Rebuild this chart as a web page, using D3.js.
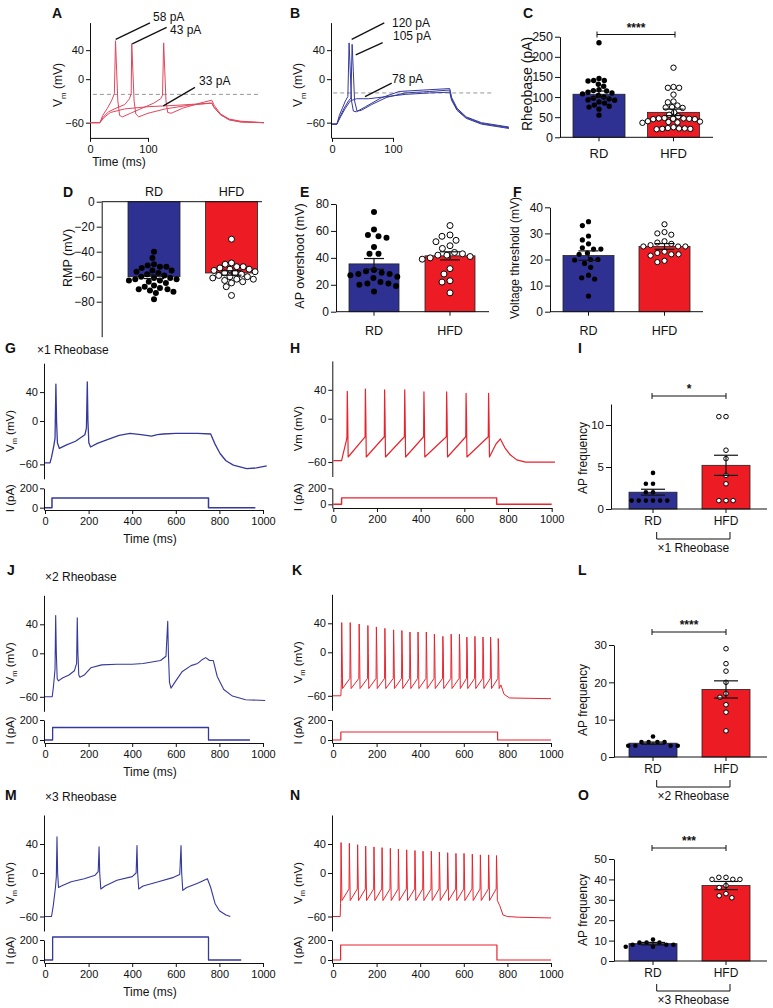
<!DOCTYPE html>
<html>
<head>
<meta charset="utf-8">
<title>Rheobase / AP figure</title>
<script src="https://cdn.jsdelivr.net/npm/d3@7/dist/d3.min.js"></script>
<style>
  body { margin: 0; background: #fff; }
  svg { display: block; }
</style>
</head>
<body>
<div id="fig"></div>
<script>
// ========== DATA ==========
// A: RD neuron, Vm (time ms, mV) at three current steps
const a58 = [[0,-60],[17,-60],[22,-50],[30,-40],[37,-30],[42,-20],[44,53],[46,10],[48,-30],[51,-50],[56,-52],[70,-47],[90,-40],[110,-33],[122,-27],[125,-22],[127,50],[129,10],[131,-30],[134,-46],[140,-47],[160,-40],[190,-33],[210,-29],[214,-36],[225,-48],[240,-55],[260,-58],[300,-60]];
const a43 = [[0,-60],[17,-60],[23,-52],[32,-45],[45,-40],[60,-35],[68,-27],[71,-20],[72,49],[74,10],[76,-30],[79,-48],[84,-52],[100,-47],[130,-41],[170,-36],[210,-33],[214,-39],[225,-49],[240,-56],[260,-59],[300,-60]];
const a33 = [[0,-60],[17,-60],[24,-53],[35,-46],[60,-41],[100,-38],[150,-36],[210,-33],[214,-39],[225,-49],[240,-56],[260,-59],[300,-60]];
// B: HFD neuron
const b120 = [[0,-62],[8,-62],[12,-50],[17,-40],[22,-30],[26,-24],[28,50],[30,10],[32,-30],[35,-44],[40,-45],[55,-38],[80,-26],[110,-17],[150,-15],[193,-13],[196,-25],[205,-40],[220,-52],[245,-60],[290,-66]];
const b105 = [[0,-62],[8,-62],[13,-52],[20,-40],[27,-30],[31,-26],[33,48],[35,10],[37,-30],[41,-44],[48,-43],[65,-35],[90,-25],[120,-19],[160,-17],[193,-15],[196,-27],[205,-42],[220,-53],[245,-61],[290,-67]];
const b78 = [[0,-62],[8,-62],[14,-52],[22,-40],[30,-30],[40,-27],[60,-27],[90,-24],[120,-21],[160,-19],[193,-18],[196,-29],[205,-43],[220,-54],[245,-62],[290,-68]];
const threshA = -21, threshB = -19;

// C–F, I, L, O summary data
const groups = ['RD', 'HFD'];
const rheoRD = [235,146,141,140,141,132,127,118,116,115,112,110,108,104,100,97,95,93,92,88,85,80,77,75,70,55];
const rheoHFD = [173,125,123,123,106,89,87,79,75,74,73,62,56,52,48,47,47,46,46,45,45,40,39,38,37,36,25,23,22,22,21,21,20];
const rheoMean = [107, 62], rheoSem = [8, 8];
const rmpRD = [-40,-45,-50,-51,-52,-52,-53,-55,-55,-56,-57,-58,-59,-60,-61,-61,-62,-62,-63,-63,-64,-65,-67,-68,-69,-70,-70,-71,-72,-73,-78];
const rmpHFD = [-30,-49,-50,-52,-52,-53,-54,-54,-55,-56,-57,-57,-58,-59,-60,-60,-61,-62,-62,-63,-64,-65,-68,-75];
const rmpMean = [-60, -57], rmpSem = [1.5, 1.8];
const ovsRD = [74,61,57,56,55,48,43,43,31,30,29,28,28,27,26,25,22,21,21,20,19,15];
const ovsHFD = [64,57,56,53,52,49,47,44,43,42,42,41,40,39,32,28,23,22,14];
const ovsMean = [35.5, 41.5], ovsSem = [4, 3];
const thrRD = [34.5,33,29,27.5,26,24.5,24,24,22.5,22,20,20,19.8,18.5,17,14,13,12.5,6];
const thrHFD = [33.5,30.5,30,29.5,27,26.5,26,25.5,25,25,25,23,22.5,22,22,21.5,19.5,19];
const thrMean = [21.5, 25], thrSem = [1.8, 1.1];
const f1RD = [4.3,3,3,2,2,1,1,1,1,1,1], f1HFD = [11,11,7,6,4,3,1,1,1];
const f1Mean = [2.0, 5.2], f1Sem = [0.35, 1.2];
const f2RD = [5.5,4,4,4,4,3,3,3,3], f2HFD = [29,25,23,20,17,16,14,12,7];
const f2Mean = [3.7, 18.1], f2Sem = [0.3, 2.3];
const f3RD = [10.5,9,9,9,8,8,8,7,7], f3HFD = [41,41,40,40,40,37,36,33,32,31];
const f3Mean = [8.5, 37], f3Sem = [0.6, 2];

// G–N: firing at x1/x2/x3 rheobase (time ms, Vm mV / I pA)
const gVm = [[0,-58],[23,-58],[30,-50],[40,-35],[46,-24],[50,51],[53,0],[57,-30],[66,-38],[99,-33],[140,-28],[183,-19],[190,-10],[194,54],[197,0],[201,-30],[209,-36],[240,-31],[283,-26],[340,-20],[390,-17],[440,-19],[489,-21],[515,-19],[543,-18],[600,-17],[650,-17],[700,-17],[760,-18],[780,-32],[803,-45],[830,-55],[864,-61],[925,-66],[970,-65],[1017,-62]];
const gI = [[0,0],[32,0],[32,100],[750,100],[750,0],[965,0]];
const hPre = [[0,-58],[38,-58],[44,-50],[52,-40],[60,-30]];
const hSpikeT = [64,147,235,327,415,519,608,711];
const hSpikePk = [38,41,40,40,37,37,35,35];
const hTrough = -53, hThresh = -25;
const hPost = [[745,-35],[765,-28],[785,-40],[810,-50],[840,-57],[880,-60],[1015,-60]];
const hI = [[0,0],[38,0],[38,80],[748,80],[748,0],[1000,0]];
const jVm = [[0,-60],[33,-60],[38,-48],[43,-32],[46,-22],[49,52],[52,0],[56,-35],[62,-38],[80,-34],[110,-30],[135,-24],[145,-14],[148,49],[151,0],[155,-30],[160,-33],[180,-30],[210,-20],[260,-16],[330,-15],[400,-15],[450,-14],[490,-12],[530,-10],[555,-4],[563,44],[566,0],[571,-40],[578,-48],[600,-38],[630,-25],[670,-17],[700,-14],[720,-9],[737,-6],[755,-10],[772,-10],[790,-32],[820,-50],[860,-59],[920,-64],[1010,-65]];
const jI = [[0,0],[35,0],[35,125],[750,125],[750,0],[940,0]];
const kPre = [[0,-60],[36,-60],[38,-45]];
const kSpikeT = [40,79,120,160,199,238,278,316,353,390,428,465,504,542,580,614,651,688,723,758];
const kSpikePk = [41,41,39,37,35,33,31,30,28,28,28,25,22,25,25,21,22,21,21,19];
const kTrough = -50, kThresh = -36;
const kPost = [[770,-45],[785,-58],[810,-63],[1000,-64]];
const kI = [[0,0],[36,0],[36,80],[755,80],[755,0],[1000,0]];
const mVm = [[0,-60],[30,-60],[38,-45],[48,-20],[52,-5],[55,50],[58,0],[62,-20],[75,-18],[120,-12],[180,-8],[230,-3],[244,2],[248,36],[251,0],[256,-22],[275,-18],[330,-10],[400,-5],[418,0],[422,38],[425,0],[430,-22],[450,-18],[520,-12],[590,-6],[618,-2],[624,38],[627,0],[632,-24],[650,-20],[700,-14],[745,-8],[760,-20],[780,-42],[800,-52],[830,-58],[850,-60]];
const mI = [[0,0],[35,0],[35,230],[750,230],[750,0],[900,0]];
const nPre = [[0,-60],[33,-60],[34.5,-42]];
const nSpikeT = [37,75,113,150,188,225,263,300,338,376,413,451,488,526,564,601,639,676,714,750];
const nSpikePk = [42,41,39,37,36,35,34,33,32,31,30,30,29,28,27,27,26,25,25,24];
const nTrough = -38, nThresh = -22;
const nPost = [[765,-45],[780,-58],[800,-60],[850,-61],[1000,-62]];
const nI = [[0,0],[35,0],[35,150],[752,150],[752,0],[1000,0]];

const timeTicks = [0, 200, 400, 600, 800, 1000];

// ========== DRAWING ==========
const FONT = "'Liberation Sans', Arial, Helvetica, sans-serif";
const BLUE = '#2e3192', RED = '#ed1c24', PINK = '#e2465c', TBLUE = '#35399a', TRED = '#e8232d';
const INK = '#111';

const svg = d3.select('#fig').append('svg')
  .attr('width', 773).attr('height', 1008)
  .attr('font-family', FONT);

function txt(x, y, s, fs = 12, anchor = 'start', fw = 'normal') {
  return svg.append('text').attr('x', x).attr('y', y).text(s)
    .attr('font-size', fs).attr('font-weight', fw).attr('text-anchor', anchor).attr('fill', INK);
}
function letter(x, y, s) { txt(x, y, s, 14, 'start', 'bold'); }

function rotLabel(cx, cy, s, fs, sub) {
  const t = svg.append('text').attr('transform', `translate(${cx},${cy}) rotate(-90)`)
    .attr('text-anchor', 'middle').attr('font-size', fs).attr('fill', INK).attr('dy', '0.35em');
  if (sub) {
    t.append('tspan').text(s[0]);
    t.append('tspan').text(sub).attr('font-size', fs * 0.65).attr('dy', fs * 0.3);
    t.append('tspan').text(s.slice(1)).attr('dy', -fs * 0.3);
  } else t.text(s);
}

function tidy(g, fs) {
  g.attr('font-family', FONT).attr('font-size', fs);
  g.selectAll('.domain, .tick line').attr('stroke', INK);
  g.selectAll('.tick text').attr('fill', INK);
  return g;
}
function yAxis(x, scale, ticks, fs, size = 4) {
  return tidy(svg.append('g').attr('transform', `translate(${x},0)`)
    .call(d3.axisLeft(scale).tickValues(ticks).tickFormat(d3.format('d'))
      .tickSize(size).tickPadding(2).tickSizeOuter(0)), fs);
}
function xAxis(y, scale, ticks, fs, size = 4) {
  return tidy(svg.append('g').attr('transform', `translate(0,${y})`)
    .call(d3.axisBottom(scale).tickValues(ticks).tickFormat(d3.format('d'))
      .tickSize(size).tickPadding(3).tickSizeOuter(0)), fs);
}

function trace(xs, ys, pts, color, w = 1.2) {
  svg.append('path').datum(pts).attr('fill', 'none').attr('stroke', color)
    .attr('stroke-width', w).attr('stroke-linejoin', 'round')
    .attr('d', d3.line().x(d => xs(d[0])).y(d => ys(d[1])));
}

// spike train assembled from read spike times / peaks
function train(pre, times, peaks, trough, thresh, post) {
  const pts = pre.slice();
  times.forEach((t, i) => {
    pts.push([t - 1.5, thresh], [t, peaks[i]], [t + 2, 0], [t + 4, trough]);
  });
  return pts.concat(post);
}

// ---------- A & B ----------
function stepPanel(p) {
  const xs = d3.scaleLinear().domain([0, 100]).range(p.xr);
  const vs = d3.scaleLinear().domain([-81, 78]).range([137.9, 22.6]);
  yAxis(p.ax, vs, [-60, 0, 40], 11);
  xAxis(137.9, xs, [0, 100], 11);
  svg.append('line').attr('x1', xs(p.dash[0])).attr('x2', xs(p.dash[1]))
    .attr('y1', vs(p.thresh)).attr('y2', vs(p.thresh))
    .attr('stroke', '#8a8a8a').attr('stroke-dasharray', '4,3').attr('stroke-width', 0.9);
  p.traces.forEach(tr => trace(xs, vs, tr, p.color, 1));
  p.notes.forEach(n => {
    svg.append('line').attr('x1', xs(n.from[0])).attr('y1', vs(n.from[1]))
      .attr('x2', xs(n.to[0])).attr('y2', vs(n.to[1])).attr('stroke', INK).attr('stroke-width', 1.3);
    txt(xs(n.at[0]), vs(n.at[1]), n.text, 12);
  });
  rotLabel(p.lx, 85, 'V (mV)', 12, 'm');
}

letter(52, 18, 'A');
stepPanel({
  xr: [90, 148], ax: 90, color: PINK, thresh: threshA, dash: [5, 293],
  traces: [a33, a43, a58], lx: 58,
  notes: [
    { text: '58 pA', from: [44.3, 54.8], to: [103.4, 77.7], at: [108.6, 80.4] },
    { text: '43 pA', from: [72.9, 48.7], to: [132.2, 71.3], at: [137.9, 62.5] },
    { text: '33 pA', from: [126.4, -36.8], to: [181, -11.4], at: [188, -7.9] }
  ]
});
txt(119, 166, 'Time (ms)', 12, 'middle');

letter(290, 18, 'B');
stepPanel({
  xr: [332, 393], ax: 331, color: TBLUE, thresh: threshB, dash: [2, 264],
  traces: [b78, b105, b120], lx: 298,
  notes: [
    { text: '120 pA', from: [32.3, 54.8], to: [85.7, 77.7], at: [98.4, 72.1] },
    { text: '105 pA', from: [38.9, 33.5], to: [83.1, 50.5], at: [100, 54.2] },
    { text: '78 pA', from: [54.1, -24], to: [97.9, -5.5], at: [98.4, -5.1] }
  ]
});

// ---------- bar + scatter panels ----------
function swarm(vals, y, cx, r, k) {
  const d = r * k;
  const pts = vals.map(v => ({ v, y: y(v) })).sort((a, b) => a.y - b.y);
  const placed = [];
  pts.forEach(p => {
    const cands = [0];
    placed.forEach(q => {
      const dy = Math.abs(p.y - q.y);
      if (dy < d) { const dx = Math.sqrt(d * d - dy * dy); cands.push(q.dx + dx, q.dx - dx); }
    });
    cands.sort((a, b) => Math.abs(a) - Math.abs(b) || a - b);
    p.dx = cands.find(c => placed.every(q => (q.dx - c) ** 2 + (q.y - p.y) ** 2 >= d * d - 0.01));
    placed.push(p);
  });
  return placed.map(p => ({ x: cx + p.dx, y: p.y }));
}

function barPanel(p) {
  const y = p.y;
  const cols = [BLUE, RED];
  p.means.forEach((m, i) => {
    svg.append('rect').attr('x', p.cx[i] - p.bw / 2).attr('width', p.bw)
      .attr('y', Math.min(y(0), y(m))).attr('height', Math.abs(y(m) - y(0)))
      .attr('fill', cols[i]).attr('stroke', '#222').attr('stroke-width', 0.8);
  });
  p.vals.forEach((vals, i) => {
    svg.append('g').selectAll('circle').data(swarm(vals, y, p.cx[i], p.r, p.k)).join('circle')
      .attr('cx', d => d.x).attr('cy', d => d.y).attr('r', p.r)
      .attr('fill', i === 0 ? '#000' : '#fff').attr('stroke', '#000').attr('stroke-width', i === 0 ? 0 : 1);
  });
  p.means.forEach((m, i) => {
    const s = p.sems[i], g = svg.append('g').attr('stroke', INK).attr('stroke-width', 1.2);
    g.append('line').attr('x1', p.cx[i]).attr('x2', p.cx[i]).attr('y1', y(m - s)).attr('y2', y(m + s));
    [m - s, m + s].forEach(v => g.append('line').attr('x1', p.cx[i] - p.hw).attr('x2', p.cx[i] + p.hw)
      .attr('y1', y(v)).attr('y2', y(v)));
  });
  yAxis(p.ax, y, p.ticks, p.fs, 5);
  svg.append('line').attr('x1', p.ax).attr('x2', p.xEnd).attr('y1', y(0)).attr('y2', y(0))
    .attr('stroke', INK);
  if (p.catTicks) {
    p.cx.forEach(c => svg.append('line').attr('x1', c).attr('x2', c)
      .attr('y1', y(0)).attr('y2', y(0) + 4).attr('stroke', INK));
  }
  groups.forEach((gname, i) => txt(p.cx[i], p.labY, gname, p.lfs || 12.5, 'middle'));
}

function sigBar(x1, x2, yy, label) {
  const g = svg.append('g').attr('stroke', INK).attr('stroke-width', 1);
  g.append('line').attr('x1', x1).attr('x2', x2).attr('y1', yy).attr('y2', yy);
  [x1, x2].forEach(x => g.append('line').attr('x1', x).attr('x2', x).attr('y1', yy - 3).attr('y2', yy + 3));
  txt((x1 + x2) / 2, yy - 3, label, 12, 'middle', 'bold');
}
function groupBracket(x1, x2, yy, label, ly) {
  svg.append('path').attr('d', `M${x1},${yy - 7}V${yy}H${x2}V${yy - 7}`)
    .attr('fill', 'none').attr('stroke', INK);
  txt((x1 + x2) / 2, ly, label, 12, 'middle');
}

// C
letter(523, 18, 'C');
barPanel({
  y: d3.scaleLinear().domain([0, 250]).range([137.3, 36.7]), ticks: [0, 50, 100, 150, 200, 250],
  ax: 560, xEnd: 713, cx: [599, 673.5], bw: 52, means: rheoMean, sems: rheoSem,
  vals: [rheoRD, rheoHFD], r: 2.7, k: 2.1, hw: 10, fs: 12.5, labY: 158, lfs: 13, catTicks: true
});
sigBar(597, 675, 34.5, '****');
rotLabel(527, 84, 'Rheobase (pA)', 14);

// D
letter(63, 197, 'D');
barPanel({
  y: d3.scaleLinear().domain([-108, 0]).range([336.7, 201.7]), ticks: [0, -20, -40, -60, -80],
  ax: 101.7, xEnd: 262, cx: [154, 231.5], bw: 52, means: rmpMean, sems: rmpSem,
  vals: [rmpRD, rmpHFD], r: 3, k: 2.15, hw: 10, fs: 12, labY: 196, catTicks: false
});
rotLabel(68, 258, 'RMP (mV)', 12.5);

// E
letter(300, 197, 'E');
barPanel({
  y: d3.scaleLinear().domain([0, 80]).range([311.7, 204]), ticks: [0, 20, 40, 60, 80],
  ax: 336, xEnd: 489, cx: [374, 450], bw: 50, means: ovsMean, sems: ovsSem,
  vals: [ovsRD, ovsHFD], r: 3, k: 2.7, hw: 10, fs: 12, labY: 335, catTicks: true
});
rotLabel(300, 256, 'AP overshoot (mV)', 12.5);

// F
letter(513, 197, 'F');
barPanel({
  y: d3.scaleLinear().domain([0, 40]).range([311.7, 207.3]), ticks: [0, 10, 20, 30, 40],
  ax: 550, xEnd: 703, cx: [588.5, 664.5], bw: 51, means: thrMean, sems: thrSem,
  vals: [thrRD, thrHFD], r: 2.6, k: 2.8, hw: 10, fs: 12, labY: 335, catTicks: true
});
rotLabel(515, 258, 'Voltage threshold (mV)', 12);

// I, L, O
function freqPanel(p) {
  barPanel({
    y: p.y, ticks: p.ticks, ax: p.ax, xEnd: 767, cx: [653, 726], bw: 48,
    means: p.means, sems: p.sems, vals: p.vals, r: 2.3, k: 3.1, hw: 12, fs: 11.5,
    labY: p.y(0) + 16, lfs: 12, catTicks: true
  });
  sigBar(652, 726, p.sigY, p.sig);
  groupBracket(656.7, 730, p.y(0) + 30, p.cap, p.y(0) + 43);
  rotLabel(583, p.lcy, 'AP frequency', 12);
}
letter(578, 353, 'I');
freqPanel({ y: d3.scaleLinear().domain([0, 12.5]).range([509, 404]), ticks: [0, 5, 10], ax: 611,
  means: f1Mean, sems: f1Sem, vals: [f1RD, f1HFD], sigY: 396, sig: '*', cap: '\u00d71 Rheobase', lcy: 458 });
letter(578, 575, 'L');
freqPanel({ y: d3.scaleLinear().domain([0, 30]).range([757, 645]), ticks: [0, 10, 20, 30], ax: 614,
  means: f2Mean, sems: f2Sem, vals: [f2RD, f2HFD], sigY: 632, sig: '****', cap: '\u00d72 Rheobase', lcy: 700 });
letter(578, 800, 'O');
freqPanel({ y: d3.scaleLinear().domain([0, 50]).range([961, 859]), ticks: [0, 10, 20, 30, 40, 50], ax: 614,
  means: f3Mean, sems: f3Sem, vals: [f3RD, f3HFD], sigY: 848, sig: '***', cap: '\u00d73 Rheobase', lcy: 910 });

// ---------- G–N traces ----------
function tracePanel(p) {
  const xs = d3.scaleLinear().domain([0, 1000]).range(p.xr);
  const vs = d3.scaleLinear().domain([-80, 80]).range(p.vr);
  const is = d3.scaleLinear().domain(p.idom).range(p.ir);
  yAxis(p.xr[0] - 1, vs, [-60, 0, 40], 11);
  yAxis(p.xr[0] - 1, is, [0, 200], 11);
  xAxis(p.ir[0], xs, timeTicks, 11);
  trace(xs, vs, p.vm, p.color, p.w);
  trace(xs, is, p.cur, p.color, p.w + 0.2);
  rotLabel(p.xr[0] - 35, (p.vr[0] + p.vr[1]) / 2 + 10, p.vlab || 'V (mV)', 11.5, p.vlab ? null : 'm');
  rotLabel(p.xr[0] - 35, (p.ir[0] + p.ir[1]) / 2 - 1, 'I (pA)', 11.5);
  if (p.time) txt((p.xr[0] + p.xr[1]) / 2 - 4, p.ir[0] + 33, 'Time (ms)', 12, 'middle');
}

// G / H
letter(5, 353, 'G');
txt(37, 354, '\u00d71 Rheobase', 12);
tracePanel({ xr: [45, 263], vr: [478.8, 363.2], idom: [-24, 200], ir: [510, 488.3],
  vm: gVm, cur: gI, color: TBLUE, w: 1.3, time: true });
letter(290, 353, 'H');
tracePanel({ xr: [333.3, 551.7], vr: [476.5, 360.9], idom: [-46, 200], ir: [508, 488.3],
  vm: train(hPre, hSpikeT, hSpikePk, hTrough, hThresh, hPost), cur: hI, color: TRED, w: 1.2,
  vlab: 'Vm (mV)', time: false });

// J / K
letter(7, 575, 'J');
txt(45, 581, '\u00d72 Rheobase', 12);
tracePanel({ xr: [45, 263], vr: [711.3, 595.3], idom: [-30, 200], ir: [743, 720],
  vm: jVm, cur: jI, color: TBLUE, w: 1.1, time: true });
letter(292, 575, 'K');
tracePanel({ xr: [333, 551], vr: [710.3, 594.3], idom: [-30, 200], ir: [743, 720],
  vm: train(kPre, kSpikeT, kSpikePk, kTrough, kThresh, kPost), cur: kI, color: TRED, w: 1, time: false });

// M / N
letter(5, 800, 'M');
txt(45, 801, '\u00d73 Rheobase', 12);
tracePanel({ xr: [45, 263], vr: [931, 815], idom: [-30, 200], ir: [963, 940],
  vm: mVm, cur: mI, color: TBLUE, w: 1.1, time: true });
letter(290, 800, 'N');
tracePanel({ xr: [333, 551], vr: [931, 815], idom: [-30, 200], ir: [963, 940],
  vm: train(nPre, nSpikeT, nSpikePk, nTrough, nThresh, nPost), cur: nI, color: TRED, w: 1, time: false });
</script>
</body>
</html>
